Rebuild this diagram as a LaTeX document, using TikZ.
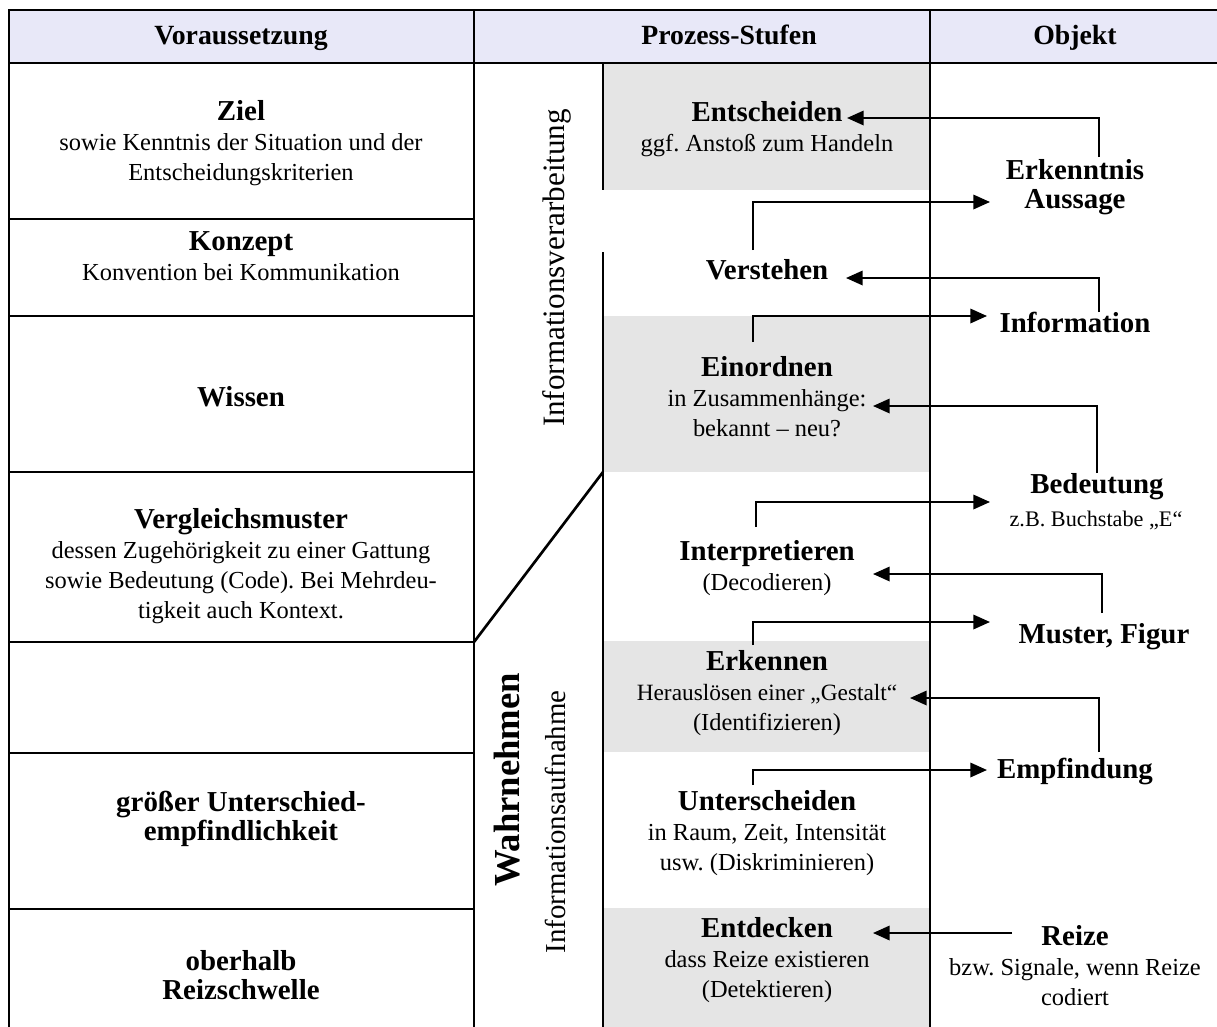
\documentclass[tikz,border=0pt]{standalone}
\usepackage{fontspec}
\setmainfont{Liberation Serif}
\usetikzlibrary{arrows.meta}
\frenchspacing

\definecolor{headfill}{RGB}{232,232,248}
\definecolor{boxgray}{RGB}{229,229,229}
\newcommand{\hd}[1]{{\fontsize{13}{15}\selectfont\bfseries #1}}

\begin{document}
\begin{tikzpicture}[x=0.45pt,y=-0.45pt,
  rule/.style={line width=1.2pt},
  conn/.style={line width=0.9pt,-{Triangle[length=7.5pt,width=6.5pt]}},
  head/.style={anchor=base,font=\fontsize{12.5}{15}\selectfont\bfseries},
  cell/.style={align=center,inner sep=0pt,font=\fontsize{11}{13.5}\selectfont},
  boldcell/.style={align=center,inner sep=0pt,font=\fontsize{13}{13}\selectfont\bfseries},
  small/.style={align=center,inner sep=0pt,font=\fontsize{10}{12}\selectfont}]
\useasboundingbox (0,0) rectangle (1217,1027);

\fill[headfill] (9,10) rectangle (1217,63);
\fill[boxgray] (603,63) rectangle (930,190);
\fill[boxgray] (603,316) rectangle (930,472);
\fill[boxgray] (603,641) rectangle (930,752);
\fill[boxgray] (603,908) rectangle (930,1027);

\draw[rule] (1217,10) -- (9,10) -- (9,1027);
\draw[rule] (9,63) -- (1217,63);
\draw[rule] (474,10) -- (474,1027);
\draw[rule] (930,10) -- (930,1027);
\foreach \y in {219,316,472,642,753,909}
  \draw[rule] (9,\y) -- (474,\y);
\draw[rule] (603,63) -- (603,190);
\draw[rule] (603,252) -- (603,1027);
\draw[rule] (603,472) -- (474,642);

\node[head] (h-vor) at (241,44) {Voraussetzung};
\node[head] (h-proz) at (729,44) {Prozess-Stufen};
\node[head] (h-obj) at (1075,44) {Objekt};

\node[cell] (ziel) at (241,143) {\hd{Ziel}\\sowie Kenntnis der Situation und der\\Entscheidungskriterien};
\node[cell] (konzept) at (241,256) {\hd{Konzept}\\Konvention bei Kommunikation};
\node[cell] (wissen) at (241,397) {\hd{Wissen}};
\node[cell] (vergl) at (241,566) {\hd{Vergleichsmuster}\\dessen Zugehörigkeit zu einer Gattung\\sowie Bedeutung (Code). Bei Mehrdeu-\\tigkeit auch Kontext.};
\node[boldcell] (diskr-v) at (241,819) {größer Unterschied-\\empfindlichkeit};
\node[boldcell] (schwelle) at (241,975) {oberhalb\\Reizschwelle};

\node[rotate=90,font=\fontsize{14}{16}\selectfont] (verarb) at (557,268) {Informationsverarbeitung};
\node[rotate=90,font=\fontsize{16.5}{18}\selectfont\bfseries] (wahrn) at (507,780) {Wahrnehmen};
\node[rotate=90,font=\fontsize{13}{15}\selectfont] (aufn) at (555,822) {Informationsaufnahme};

\node[cell] (entsch) at (767,129) {\hd{Entscheiden}\\ggf. Anstoß zum Handeln};
\node[cell] (verst) at (767,270) {\hd{Verstehen}};
\node[cell] (einord) at (767,397) {\hd{Einordnen}\\in Zusammenhänge:\\bekannt – neu?};
\node[cell] (interp) at (767,568) {\hd{Interpretieren}\\(Decodieren)};
\node[cell] (erkenn) at (767,693) {\hd{Erkennen}\\{\fontsize{10.5}{13}\selectfont Herauslösen einer „Gestalt“}\\(Identifizieren)};
\node[cell] (untersch) at (767,833) {\hd{Unterscheiden}\\in Raum, Zeit, Intensität\\usw. (Diskriminieren)};
\node[cell] (entdeck) at (767,960) {\hd{Entdecken}\\dass Reize existieren\\(Detektieren)};

\node[boldcell] (erkenntnis) at (1075,187) {Erkenntnis\\Aussage};
\node[boldcell] (info) at (1075,322) {Information};
\node[boldcell] (bedeut) at (1097,487) {Bedeutung};
\node[small] (bsp) at (1096,520) {z.B. Buchstabe „E“};
\node[boldcell] (muster) at (1104,637) {Muster, Figur};
\node[boldcell] (empf) at (1075,772) {Empfindung};
\node[cell] (reize) at (1075,966) {\hd{Reize}\\bzw. Signale, wenn Reize\\codiert};

\coordinate (erkenntnis-s) at (1099,157);
\coordinate (entsch-t) at (847,118);
\coordinate (verst-s) at (753,250);
\coordinate (erkenntnis-t) at (990,202);
\coordinate (info-s) at (1099,312);
\coordinate (verst-t) at (846,278);
\coordinate (einord-s) at (753,342);
\coordinate (info-t) at (987,316);
\coordinate (bedeut-s) at (1097,473);
\coordinate (einord-t) at (873,406);
\coordinate (interp-s) at (756,527);
\coordinate (bedeut-t) at (990,502);
\coordinate (muster-s) at (1102,613);
\coordinate (interp-t) at (873,574);
\coordinate (erkenn-s) at (753,645);
\coordinate (muster-t) at (990,622);
\coordinate (empf-s) at (1099,752);
\coordinate (erkenn-t) at (910,698);
\coordinate (untersch-s) at (753,785);
\coordinate (empf-t) at (987,770);
\coordinate (reize-s) at (1012,933);
\coordinate (entdeck-t) at (873,933);

\draw[conn] (erkenntnis-s) |- (entsch-t);
\draw[conn] (verst-s) |- (erkenntnis-t);
\draw[conn] (info-s) |- (verst-t);
\draw[conn] (einord-s) |- (info-t);
\draw[conn] (bedeut-s) |- (einord-t);
\draw[conn] (interp-s) |- (bedeut-t);
\draw[conn] (muster-s) |- (interp-t);
\draw[conn] (erkenn-s) |- (muster-t);
\draw[conn] (empf-s) |- (erkenn-t);
\draw[conn] (untersch-s) |- (empf-t);
\draw[conn] (reize-s) -- (entdeck-t);
\end{tikzpicture}
\end{document}
